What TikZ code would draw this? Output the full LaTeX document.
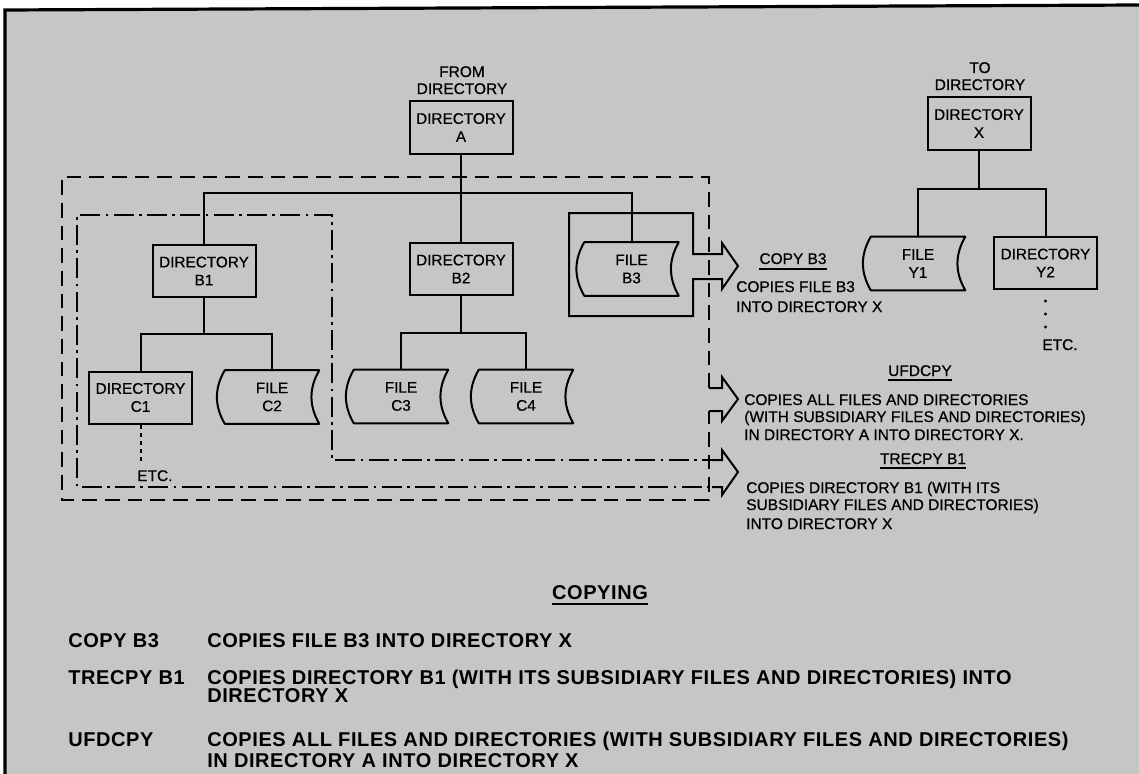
\documentclass[tikz,border=0pt]{standalone}
\usepackage{fontspec}
\setmainfont{Liberation Sans}
\newfontfamily\diafont[FakeBold=0.6]{Liberation Sans}
\newfontfamily\legfont[LetterSpace=3]{Liberation Sans}
\usetikzlibrary{calc}
\definecolor{paper}{RGB}{198,198,198}
\newcommand{\fileoutline}[1]{%
  \draw[line width=1.5pt,line join=round] (#1.north west) -- (#1.north east)
    to[bend right=30] (#1.south east) -- (#1.south west)
    to[bend left=30] (#1.north west) -- cycle;}
\begin{document}
\begin{tikzpicture}[x=0.75pt,y=-0.75pt,
  every node/.style={inner sep=0pt},
  txt/.style={font=\diafont\fontsize{11.6}{13.5}\selectfont, anchor=base west},
  txtc/.style={font=\diafont\fontsize{11.6}{13.5}\selectfont, anchor=base},
  leg/.style={font=\legfont\bfseries\fontsize{15}{17}\selectfont, anchor=base west},
  legc/.style={font=\legfont\bfseries\fontsize{15}{17}\selectfont, anchor=base},
  dirbox/.style={draw, line width=1.5pt, minimum width=77.25pt, minimum height=39pt,
    align=center, font=\diafont\fontsize{11.5}{13.5}\selectfont},
  filebox/.style={minimum width=70.5pt, minimum height=39.75pt,
    align=center, font=\diafont\fontsize{11.5}{13.5}\selectfont},
  solid line/.style={line width=1.5pt},
  dash line/.style={line width=1.5pt, dash pattern=on 11pt off 6pt},
  dashdot line/.style={line width=1.5pt, dash pattern=on 15pt off 4pt on 2pt off 4pt},
  uline/.style={line width=1.3pt}]
\useasboundingbox (0,0) rectangle (1139,774);
% paper
\fill[white] (0,0) rectangle (1139,774);
\fill[paper] (5,10) -- (1139,5) -- (1139,774) -- (5,774) -- cycle;
\draw[line width=2.4pt] (5,774) -- (5,10) -- (1139,5);

% ---------- source tree ----------
\node[txtc] (fromA) at (462,77) {FROM};
\node[txtc] (fromB) at (462,94) {DIRECTORY};
\node[dirbox] (A) at (461,127.5) {DIRECTORY\\A};
\node[dirbox] (B1) at (204,271) {DIRECTORY\\B1};
\node[dirbox] (B2) at (461,269) {DIRECTORY\\B2};
\node[filebox] (B3) at (631.5,269) {FILE\\B3};
\node[dirbox] (C1) at (140.5,397.5) {DIRECTORY\\C1};
\node[filebox] (C2) at (272,397) {FILE\\C2};
\node[filebox] (C3) at (401,396.5) {FILE\\C3};
\node[filebox] (C4) at (526,396.5) {FILE\\C4};
\fileoutline{B3}
\fileoutline{C2}
\fileoutline{C3}
\fileoutline{C4}
\coordinate (busA) at (461,193);
\coordinate (busB1) at (204,334);
\coordinate (busB2) at (461,333);
\draw[solid line] (A.south) -- (B2.north);
\draw[solid line] (B1.north) |- (busA) -| (B3.north);
\draw[solid line] (B1.south) -- (busB1);
\draw[solid line] (C1.north) |- (busB1) -| (C2.north);
\draw[solid line] (B2.south) -- (busB2);
\draw[solid line] (C3.north) |- (busB2) -| (C4.north);
\node[txt] (etcC) at (137,481) {ETC.};
\draw[line width=1.5pt, dash pattern=on 3pt off 3pt] (C1.south) -- ++(0,37);

% ---------- destination tree ----------
\node[txtc] (toA) at (980,73) {TO};
\node[txtc] (toB) at (980,90) {DIRECTORY};
\node[dirbox] (X) at (979,123.5) {DIRECTORY\\X};
\node[filebox] (Y1) at (918,263.5) {FILE\\Y1};
\node[dirbox] (Y2) at (1045.5,263) {DIRECTORY\\Y2};
\fileoutline{Y1}
\coordinate (busX) at (979,189);
\draw[solid line] (X.south) -- (busX);
\draw[solid line] (Y1.north) |- (busX) -| (Y2.north);
\draw[line width=2.4pt, line cap=round, dash pattern=on 0pt off 9.75pt] ([yshift=-8.25pt]Y2.south) -- ++(0,27);
\node[txtc] (etcY) at (1060,350) {ETC.};

% ---------- COPY B3 : solid arrow ----------
\draw[solid line, line join=miter]
  (569,213) -- (693,213) -- (693,254) -- (722,254) -- (722,243) -- (738,266)
  -- (722,289) -- (722,279) -- (693,279) -- (693,316) -- (569,316) -- cycle;

% ---------- UFDCPY : dashed arrow ----------
\draw[dash line] (709,388) -- (709,177) -- (62,177) -- (62,500) -- (709,500) -- (709,411);
\draw[solid line, line join=miter]
  (709,388) -- (722,388) -- (722,377) -- (738,399) -- (722,421) -- (722,411) -- (709,411);

% ---------- TRECPY B1 : dash-dot arrow ----------
\draw[dashdot line] (722,460) -- (332,460) -- (332,215) -- (77,215) -- (77,487) -- (722,487);
\draw[solid line, line join=miter]
  (712,460) -- (722,460) -- (722,450) -- (738,472) -- (722,495) -- (722,487) -- (712,487);

% ---------- right hand texts ----------
\node[txtc] (hCopy) at (793,264) {COPY B3};
\draw[uline] ([yshift=-4pt]hCopy.base west) -- ([yshift=-4pt]hCopy.base east);
\node[txt] (tCopy1) at (736,292) {COPIES FILE B3};
\node[txt] (tCopy2) at (736,312) {INTO DIRECTORY X};

\node[txtc] (hUfd) at (920,376) {UFDCPY};
\draw[uline] ([yshift=-3pt]hUfd.base west) -- ([yshift=-3pt]hUfd.base east);
\node[txt] (tUfd1) at (744,405) {COPIES ALL FILES AND DIRECTORIES};
\node[txt] (tUfd2) at (744,422) {(WITH SUBSIDIARY FILES AND DIRECTORIES)};
\node[txt] (tUfd3) at (744,440) {IN DIRECTORY A INTO DIRECTORY X.};

\node[txtc] (hTre) at (923,464) {TRECPY B1};
\draw[uline] ([yshift=-3pt]hTre.base west) -- ([yshift=-3pt]hTre.base east);
\node[txt] (tTre1) at (746,493) {COPIES DIRECTORY B1 (WITH ITS};
\node[txt] (tTre2) at (746,510) {SUBSIDIARY FILES AND DIRECTORIES)};
\node[txt] (tTre3) at (746,529) {INTO DIRECTORY X};

% ---------- legend ----------
\node[legc] (hLeg) at (600,599) {COPYING};
\draw[uline] ([yshift=-3.5pt]hLeg.base west) -- ([yshift=-3.5pt]hLeg.base east);
\node[leg] (l1) at (68,647) {COPY B3};
\node[leg] (d1) at (207,647) {COPIES FILE B3 INTO DIRECTORY X};
\node[leg] (l2) at (68,684) {TRECPY B1};
\node[leg] (d2a) at (207,684) {COPIES DIRECTORY B1 (WITH ITS SUBSIDIARY FILES AND DIRECTORIES) INTO};
\node[leg] (d2b) at (207,702) {DIRECTORY X};
\node[leg] (l3) at (68,746) {UFDCPY};
\node[leg] (d3a) at (207,746) {COPIES ALL FILES AND DIRECTORIES (WITH SUBSIDIARY FILES AND DIRECTORIES)};
\node[leg] (d3b) at (207,767) {IN DIRECTORY A INTO DIRECTORY X};
\end{tikzpicture}
\end{document}
